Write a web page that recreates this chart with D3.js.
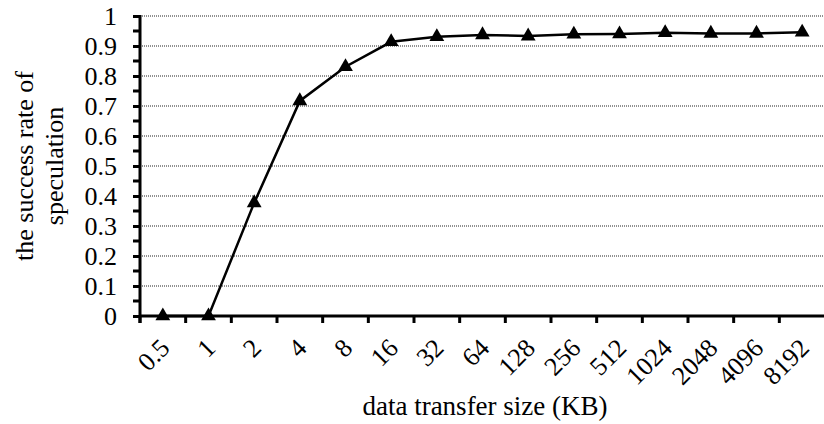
<!DOCTYPE html>
<html><head><meta charset="utf-8">
<script src="https://cdn.jsdelivr.net/npm/d3@7"></script>
<style>body{margin:0;background:#fff}svg{display:block}</style>
</head><body><svg id="c" width="824" height="424"></svg>
<script>
const categories = ["0.5","1","2","4","8","16","32","64","128","256","512","1024","2048","4096","8192"];
const values = [0,0,0.377,0.717,0.831,0.914,0.931,0.937,0.933,0.939,0.940,0.944,0.942,0.942,0.946];
const yTicks = [0,0.1,0.2,0.3,0.4,0.5,0.6,0.7,0.8,0.9,1];
const yMinorTicks = [0.05,0.15,0.25,0.35,0.45,0.55,0.65,0.75,0.85,0.95];
const xTitle = "data transfer size (KB)";
const yTitle = ["the success rate of","speculation"];

const FONT = "'Liberation Serif'";
const svg = d3.select("#c");
const L = 140, R = 825, T = 16, B = 316;
const x = d3.scaleBand().domain(categories).range([L, R]).padding(0);
const y = d3.scaleLinear().domain([0,1]).range([B, T]);
const fs = 26;

// gridlines
svg.append("g").selectAll("line").data(yTicks.filter(d=>d>0)).join("line")
  .attr("x1", L).attr("x2", 824).attr("y1", d=>y(d)).attr("y2", d=>y(d))
  .attr("stroke", "#222").attr("stroke-width", 1).attr("stroke-dasharray", "1,1");

// y axis
const yAxis = d3.axisLeft(y).tickValues(yTicks).tickSize(7).tickFormat(d=>String(+d.toFixed(1)));
const gy = svg.append("g").attr("transform", `translate(${L},0)`).call(yAxis)
  .attr("font-family", null).attr("font-size", null);
gy.select(".domain").remove();
gy.selectAll(".tick line").attr("stroke-width", 3);
gy.selectAll(".tick text").attr("x", -23).attr("dy", "0.34em")
  .style("font-family", FONT).style("font-size", fs+"px").style("fill","#000");
svg.append("g").selectAll("line").data(yMinorTicks).join("line")
  .attr("x1", L-7).attr("x2", L).attr("y1", d=>y(d)).attr("y2", d=>y(d))
  .attr("stroke", "#000").attr("stroke-width", 3);

// x axis ticks between categories
svg.append("g").selectAll("line").data(categories).join("line")
  .attr("x1", d=>x(d)).attr("x2", d=>x(d)).attr("y1", B).attr("y2", B+7)
  .attr("stroke", "#000").attr("stroke-width", 3);
svg.append("line").attr("x1", L).attr("x2", 824).attr("y1", B).attr("y2", B).attr("stroke", "#000").attr("stroke-width", 3);
svg.append("line").attr("x1", L).attr("x2", L).attr("y1", T-1).attr("y2", B+7).attr("stroke", "#000").attr("stroke-width", 3);

// x labels
const cx = d=>x(d)+x.bandwidth()/2;
svg.append("g").selectAll("text").data(categories).join("text")
  .attr("transform", d=>`translate(${cx(d)+2},${B+27}) rotate(-45)`)
  .attr("text-anchor", "end").attr("dy", "0.35em")
  .style("font-family", FONT).style("font-size", fs+"px").text(d=>d);

// line
svg.append("path").datum(categories.map((c,i)=>[cx(c), y(values[i])]))
  .attr("d", d3.line()).attr("fill","none").attr("stroke","#000").attr("stroke-width",2.5);
const tri = d3.symbol().type(d3.symbolTriangle).size(95);
svg.append("g").selectAll("path").data(categories).join("path")
  .attr("transform", (c,i)=>`translate(${cx(c)},${y(values[i])})`)
  .attr("d", tri).attr("fill","#000");

// titles
svg.append("text").attr("x", 485).attr("y", 415).attr("text-anchor","middle")
  .style("font-family", FONT).style("font-size", "27px").text(xTitle);
const yt = svg.append("text").attr("transform","translate(0,166) rotate(-90)").attr("text-anchor","middle")
  .style("font-family", FONT).style("font-size", fs+"px");
yt.selectAll("tspan").data(yTitle).join("tspan").attr("x",0).attr("y",(d,i)=>[33,63][i]).text(d=>d);
</script></body></html>
